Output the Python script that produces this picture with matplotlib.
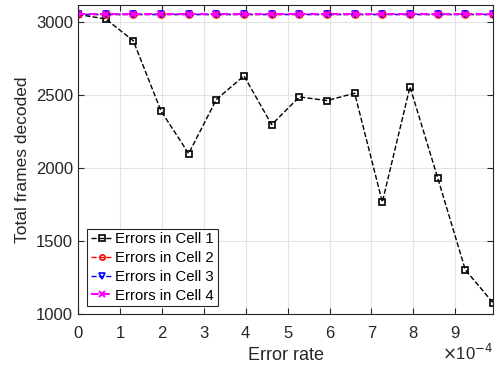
import numpy as np
import matplotlib
matplotlib.use("Agg")
from matplotlib import pyplot as plt

plt.rcParams['font.family'] = ['Liberation Sans', 'DejaVu Sans']

# error rate (x 1e-4)
error_rate = [0, 0.66, 1.32, 1.98, 2.64, 3.30, 3.96, 4.62, 5.28, 5.94,
              6.60, 7.26, 7.92, 8.58, 9.24, 9.90]
cell1 = [3050, 3020, 2870, 2390, 2098, 2468, 2630, 2296, 2486, 2461,
         2511, 1766, 2555, 1932, 1302, 1077]
cell2 = [3050] * 16
cell3 = [3050] * 16
cell4 = [3050] * 16

x = np.array(error_rate) * 1e-4

fig = plt.figure(figsize=(5.01, 3.72), dpi=100)
ax = fig.add_axes([78 / 501, 58 / 372, 415 / 501, 309 / 372])

ax.plot(x, cell1, 'k--s', lw=1, ms=5, mfc='none', mew=1.2, label='Errors in Cell 1')
ax.plot(x, cell2, 'r--o', lw=1, ms=5, mfc='none', mew=1.2, label='Errors in Cell 2')
ax.plot(x, cell3, 'b--v', lw=1, ms=5, mfc='none', mew=1.2, label='Errors in Cell 3')
ax.plot(x, cell4, '--x', color='magenta', lw=1.5, ms=5, mew=1.5, label='Errors in Cell 4')

ax.set_xlim(0, 9.9e-4)
ax.set_ylim(1000, 3115)
ax.set_xticks(np.arange(0, 10) * 1e-4)
ax.set_xticklabels([str(i) for i in range(10)])
ax.set_yticks([1000, 1500, 2000, 2500, 3000])
ax.grid(True, color='#e3e3e3', lw=0.8)
ax.set_axisbelow(True)
ax.tick_params(direction='in', top=True, right=True, labelsize=12,
               colors='#262626', length=4)
ax.tick_params(axis='x', pad=9)
for s in ax.spines.values():
    s.set_color('#262626')

ax.set_xlabel('Error rate', fontsize=13, color='#262626', labelpad=4)
ax.set_ylabel('Total frames decoded', fontsize=12.5, color='#262626')
ax.text(1.0, -0.095, r'$\times$10$^{-4}$', transform=ax.transAxes,
        ha='right', va='top', fontsize=12, color='#262626')

leg = ax.legend(loc='lower left', bbox_to_anchor=(0.022, 0.025), fontsize=10.7,
                fancybox=False, edgecolor='#262626', framealpha=1,
                handlelength=1.5, handletextpad=0.15, borderpad=0.25,
                labelspacing=0.32, borderaxespad=0, markerscale=0.75)
leg.get_frame().set_linewidth(0.8)

fig.savefig('out.png', dpi=100)
